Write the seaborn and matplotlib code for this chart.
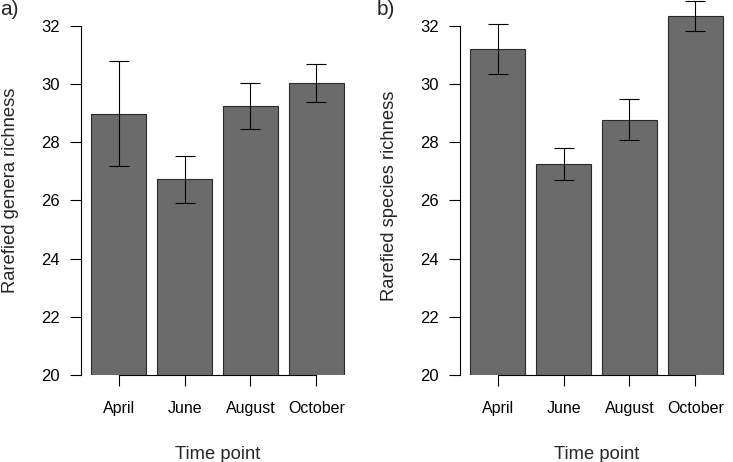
import matplotlib
matplotlib.use("Agg")
import matplotlib.pyplot as plt
import seaborn as sns
import pandas as pd

months = ["April", "June", "August", "October"]
genera_mean = [28.98, 26.73, 29.25, 30.05]
genera_err = [1.80, 0.81, 0.78, 0.65]
species_mean = [31.21, 27.25, 28.77, 32.33]
species_err = [0.87, 0.54, 0.70, 0.52]
y_ticks = [20, 22, 24, 26, 28, 30, 32]

sns.set_style("ticks")
plt.rcParams['font.family'] = ['Liberation Sans', 'DejaVu Sans']

W, H = 733, 462
fig = plt.figure(figsize=(W / 100, H / 100), dpi=100)

panels = [
    (81, "a)", 0, "Rarefied genera richness", genera_mean, genera_err, 0.493),
    (460, "b)", 377, "Rarefied species richness", species_mean, species_err, 0.478),
]

ax_w = 273
ax_h = 375
for left_px, tag, tag_x, ylabel, means, errs, ly in panels:
    ax = fig.add_axes([left_px / W, (H - ax_h) / H, ax_w / W, ax_h / H])
    df = pd.DataFrame({"month": months, "value": means})
    sns.barplot(data=df, x="month", y="value", order=months, ax=ax,
                color="#6b6b6b", saturation=1, width=1 / 1.2,
                edgecolor="#2a2a2a", linewidth=0.8, errorbar=None)
    ax.errorbar(x=list(range(len(months))), y=means, yerr=errs, fmt="none",
                ecolor="black", elinewidth=0.8, capsize=7.2, capthick=0.8,
                clip_on=False, zorder=5)
    ax.set_xlim(-0.57, 3.57)
    ax.set_ylim(20, 32.89)
    ax.set_yticks(y_ticks)
    ax.set_yticklabels([str(t) for t in y_ticks])
    for s in ["top", "right"]:
        ax.spines[s].set_visible(False)
    ax.spines["left"].set_bounds(20, 32)
    ax.spines["bottom"].set_bounds(0, 3)
    for s in ["left", "bottom"]:
        ax.spines[s].set_linewidth(0.8)
        ax.spines[s].set_color("black")
        ax.spines[s].set_zorder(6)
    ax.tick_params(axis="y", length=7.9, width=0.8, pad=7.2, labelsize=12,
                   colors="black")
    ax.tick_params(axis="x", length=8, width=0.8, pad=11, labelsize=11.5,
                   colors="black")
    ax.set_xlabel("Time point", fontsize=13.2, va="baseline")
    ax.xaxis.set_label_coords(0.5, -0.224)
    ax.set_ylabel(ylabel, fontsize=13.2, va="baseline")
    ax.yaxis.set_label_coords(-0.242, ly)
    ax.set_facecolor("none")
    fig.text(tag_x / W, 1 - 15 / H, tag, fontsize=15, ha="left",
             va="baseline")

fig.savefig("out.png", dpi=100)
